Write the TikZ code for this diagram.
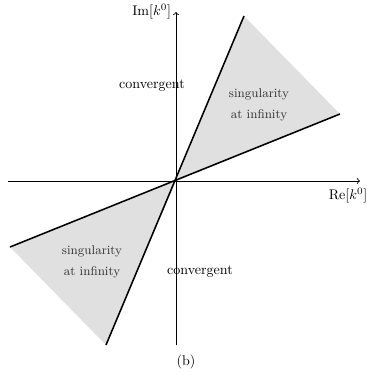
\documentclass[tikz,border=0pt]{standalone}
\usepackage{amsmath}
\usetikzlibrary{positioning}
\definecolor{sheetgray}{RGB}{224,224,224}

\begin{document}
\begin{tikzpicture}[
  every node/.style={font=\normalsize},
  axis/.style={->, line width=0.6pt},
  ray/.style={line width=1.1pt},
  wedge/.style={fill=sheetgray, draw=none},
  region/.style={align=center, font=\small, text=black!80}
]
\useasboundingbox (-4.4,-4.85) rectangle (4.775,4.525);

\coordinate (O) at (0,0);
\coordinate (xmin) at (-4.2,0);
\coordinate (xmax) at (4.6,0);
\coordinate (ymin) at (0,-4.1);
\coordinate (ymax) at (0,4.225);
\coordinate (steepup) at (1.7,4.125);
\coordinate (steepdown) at (-1.75,-4.1);
\coordinate (flatup) at (4.1,1.675);
\coordinate (flatdown) at (-4.15,-1.65);

% shaded sectors
\fill[wedge] (O) -- (steepup) -- (flatup) -- cycle;
\fill[wedge] (O) -- (flatdown) -- (steepdown) -- cycle;

% axes
\draw[axis] (xmin) -- (xmax);
\draw[axis] (ymin) -- (ymax);

% boundary rays
\draw[ray] (steepdown) -- (steepup);
\draw[ray] (flatdown) -- (flatup);

\node[left=0pt of ymax] (imlabel) {$\mathrm{Im}[k^0]$};
\node at (4.3,-0.375) (relabel) {$\mathrm{Re}[k^0]$};

\node at (-0.6,2.375) (convup) {convergent};
\node at (0.6,-2.275) (convdown) {convergent};
\node[region] at (2.075,1.9) (singup) {singularity\\[4pt]at infinity};
\node[region] at (-2.1,-2.03) (singdown) {singularity\\[4pt]at infinity};

\node at (0.25,-4.53) (caption) {(b)};
\end{tikzpicture}
\end{document}
